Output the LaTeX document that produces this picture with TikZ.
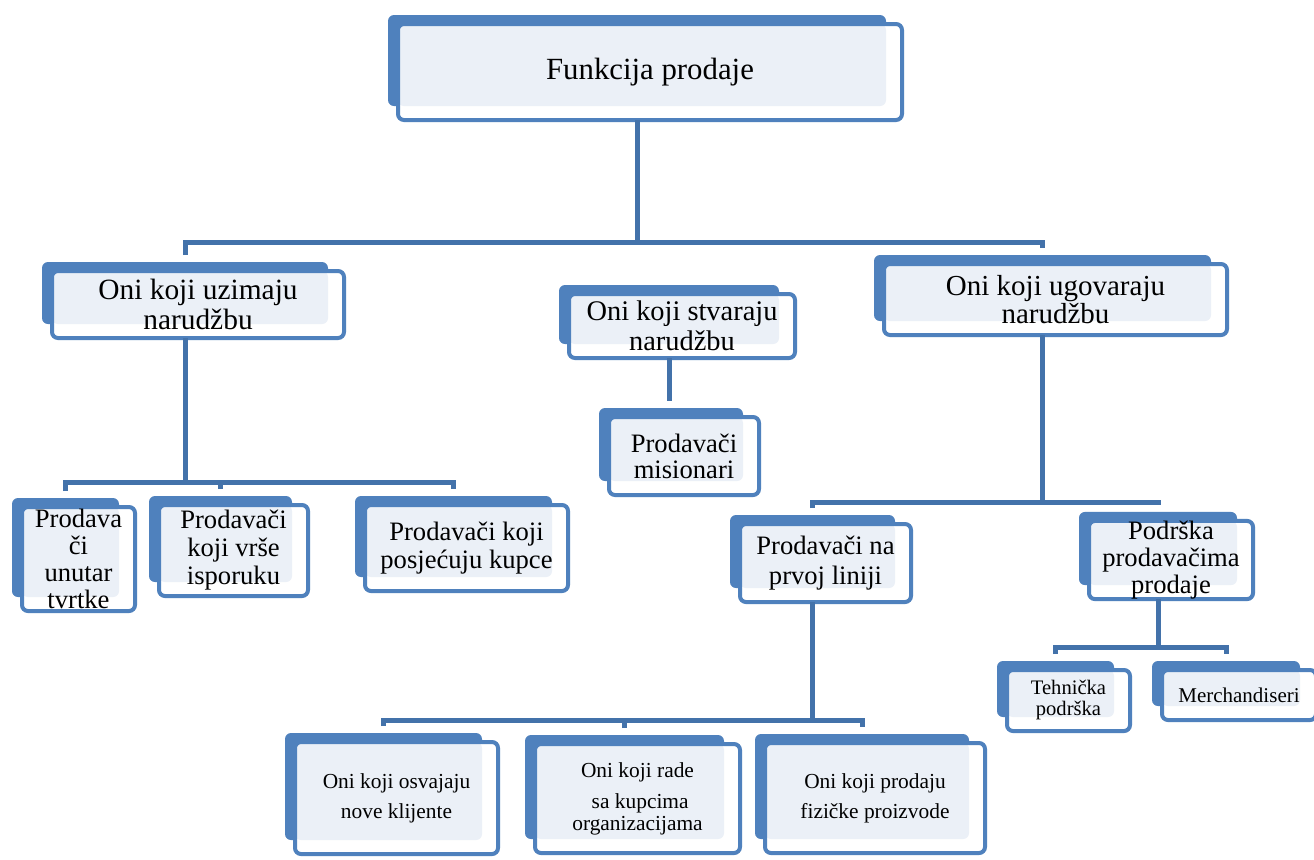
\documentclass[tikz,border=0pt]{standalone}
\usepackage{fontspec}
\setmainfont{Liberation Serif}
\usetikzlibrary{backgrounds}
\definecolor{box_blue}{HTML}{4F81BD}
\definecolor{link_blue}{HTML}{4372AA}
\definecolor{box_light}{HTML}{EBF0F7}

\begin{document}
\begin{tikzpicture}[x=0.5pt, y=-0.5pt,
    card/.style={draw=box_blue, line width=2pt, rounded corners=3pt, fill=white, inner sep=0pt, outer sep=0pt, align=center,
      path picture={\fill[box_light, rounded corners=3pt] (path picture bounding box.north west) rectangle ([shift={(-8pt,7pt)}]path picture bounding box.south east);}},
    link/.style={draw=link_blue, line width=2.5pt}]
   \useasboundingbox (0,0) rectangle (1314,859);
   \begin{scope}[on background layer]
      \fill[white] (0,0) rectangle (1314,859);
   \end{scope}
   % top box
   \node[card, minimum width=252pt, minimum height=48pt, font=\fontsize{15.4}{18}\selectfont] (funk) at (650,72) {Funkcija prodaje};
   % second row
   \node[card, minimum width=146pt, minimum height=33.5pt, font=\fontsize{14.7}{15}\selectfont] (uzim) at (198,304.5) {Oni koji uzimaju\\narudžbu};
   \node[card, minimum width=113pt, minimum height=32pt, font=\fontsize{14.2}{15}\selectfont] (stvar) at (682,326) {Oni koji stvaraju\\narudžbu};
   \node[card, minimum width=171.5pt, minimum height=35.5pt, font=\fontsize{14.5}{14}\selectfont] (ugov) at (1055.5,299.5) {Oni koji ugovaraju\\narudžbu};
   % third row
   \node[card, minimum width=75pt, minimum height=39pt, font=\fontsize{13.3}{13}\selectfont] (misio) at (684,456) {Prodavači\\misionari};
   \node[card, minimum width=56.5pt, minimum height=52pt, font=\fontsize{13.3}{13.5}\selectfont] (unutar) at (78.5,559) {Prodava\\či\\unutar\\tvrtke};
   \node[card, minimum width=74.5pt, minimum height=45.5pt, font=\fontsize{13.3}{14}\selectfont] (ispor) at (233.5,550.5) {Prodavači\\koji vrše\\isporuku};
   \node[card, minimum width=101.5pt, minimum height=43pt, font=\fontsize{13.3}{14}\selectfont] (posj) at (466.5,548) {Prodavači koji\\posjećuju kupce};
   \node[card, minimum width=85.5pt, minimum height=39pt, font=\fontsize{13.3}{15}\selectfont] (prvoj) at (825.5,563) {Prodavači na\\prvoj liniji};
   \node[card, minimum width=82pt, minimum height=37pt, font=\fontsize{13.3}{13.5}\selectfont] (podr) at (1171,560) {Podrška\\prodavačima\\prodaje};
   % small boxes
   \node[card, minimum width=61.5pt, minimum height=30.5pt, font=\fontsize{10.3}{10.5}\selectfont] (tehn) at (1068.5,700.5) {Tehnička\\podrška};
   \node[card, minimum width=77pt, minimum height=25pt, font=\fontsize{10.5}{12}\selectfont] (merch) at (1239,695) {Merchandiseri};
   % bottom row
   \node[card, minimum width=101.5pt, minimum height=56pt, font=\fontsize{10.7}{15}\selectfont] (osvaj) at (396.5,798) {Oni koji osvajaju\\nove klijente};
   \node[card, minimum width=102.5pt, minimum height=54.5pt, font=\fontsize{10.7}{15}\selectfont] (rade) at (637.5,798.5) {Oni koji rade\\[0.5pt]~sa kupcima\\[-4pt]organizacijama};
   \node[card, minimum width=110pt, minimum height=55pt, font=\fontsize{10.7}{15}\selectfont] (prodaju) at (875,798) {Oni koji prodaju\\fizičke proizvode};
   % blue backs and the ends for the lines
   \foreach \n in {funk,uzim,stvar,ugov,misio,unutar,ispor,posj,prvoj,podr,tehn,merch,osvaj,rade,prodaju} {
      \begin{scope}[on background layer]
         \fill[box_blue, rounded corners=3pt] ([shift={(-5pt,4.5pt)}]\n.north west) rectangle ([shift={(-8pt,7pt)}]\n.south east);
      \end{scope}
      \coordinate (\n-n) at ([shift={(-6.5pt,8pt)}]\n.north);
      \coordinate (\n-s) at ([xshift=-6.5pt]\n.south);
   }
   % bus levels
   \coordinate (bus1) at (0,242);
   \coordinate (bus2) at (0,482);
   \coordinate (bus3) at (0,502);
   \coordinate (bus4) at (0,647);
   \coordinate (bus5) at (0,720);
   % from the top
   \draw[link] (funk-s) -- (funk-s |- bus1);
   \draw[link] (uzim-n) |- (bus1 -| ugov-n) -- (ugov-n);
   % left branch
   \draw[link] (uzim-s) -- (uzim-s |- bus2);
   \draw[link] (unutar-n) |- (bus2 -| posj-n) -- (posj-n);
   \draw[link] (ispor-n) -- (ispor-n |- bus2);
   % middle branch
   \draw[link] (stvar-s) -- (stvar-s |- misio-n);
   % right branch
   \draw[link] (ugov-s) -- (ugov-s |- bus3);
   \draw[link] (prvoj-n) |- (bus3 -| podr-n) -- (podr-n);
   \draw[link] (podr-s) -- (podr-s |- bus4);
   \draw[link] (tehn-n) |- (bus4 -| merch-n) -- (merch-n);
   % bottom branch
   \draw[link] (prvoj-s) -- (prvoj-s |- bus5);
   \draw[link] (osvaj-n) |- (bus5 -| prodaju-n) -- (prodaju-n);
   \draw[link] (rade-n) -- (rade-n |- bus5);
\end{tikzpicture}
\end{document}
